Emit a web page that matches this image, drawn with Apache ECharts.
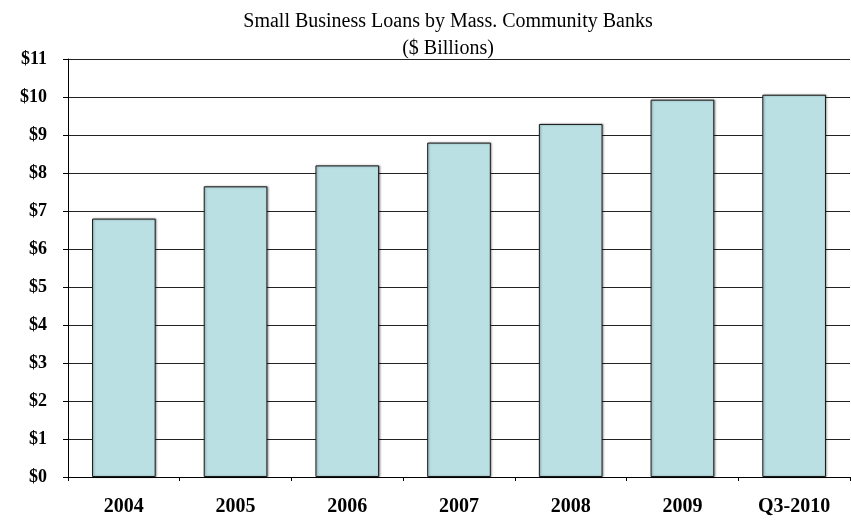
<!DOCTYPE html>
<html>
<head>
<meta charset="utf-8">
<script src="https://cdn.jsdelivr.net/npm/echarts@6/dist/echarts.min.js"></script>
<style>html,body{margin:0;padding:0;background:#fff}#c{width:851px;height:521px}</style>
</head>
<body>
<div id="c"></div>
<script>
var categories = ['2004', '2005', '2006', '2007', '2008', '2009', 'Q3-2010'];
var loans = [6.8, 7.65, 8.2, 8.8, 9.29, 9.93, 10.06];
var titleText = 'Small Business Loans by Mass. Community Banks\n($ Billions)';

var chart = echarts.init(document.getElementById('c'), null, {renderer: 'canvas'});
chart.setOption({
  animation: false,
  backgroundColor: '#ffffff',
  title: {
    text: titleText,
    left: 443,
    textAlign: 'center',
    top: 3,
    textStyle: {fontFamily: 'Liberation Serif', fontWeight: 'normal', fontSize: 20, color: '#000', lineHeight: 27}
  },
  grid: {left: 68, right: 1, top: 59, bottom: 44, containLabel: false},
  xAxis: {
    type: 'category',
    data: categories,
    axisLine: {lineStyle: {color: '#000', width: 1}},
    axisTick: {show: true, alignWithLabel: false, length: 4, lineStyle: {color: '#000'}},
    axisLabel: {fontFamily: 'Liberation Serif', fontWeight: 'bold', fontSize: 20, color: '#000', margin: 20}
  },
  yAxis: {
    type: 'value',
    min: 0, max: 11, interval: 1,
    axisLine: {show: true, lineStyle: {color: '#000', width: 1}},
    axisTick: {show: true, length: 5, lineStyle: {color: '#000'}},
    splitLine: {show: true, lineStyle: {color: '#222', width: 1}},
    axisLabel: {fontFamily: 'Liberation Serif', fontWeight: 'bold', fontSize: 18, color: '#000', margin: 21,
      formatter: function (v) { return '$' + v; }}
  },
  series: [{
    type: 'bar',
    data: loans,
    barWidth: '57%',
    itemStyle: {color: '#bae0e3', borderColor: '#1a1a1a', borderWidth: 1,
      shadowColor: 'rgba(0,0,0,0.35)', shadowBlur: 2, shadowOffsetX: 1, shadowOffsetY: 0}
  }]
});
</script>
</body>
</html>
